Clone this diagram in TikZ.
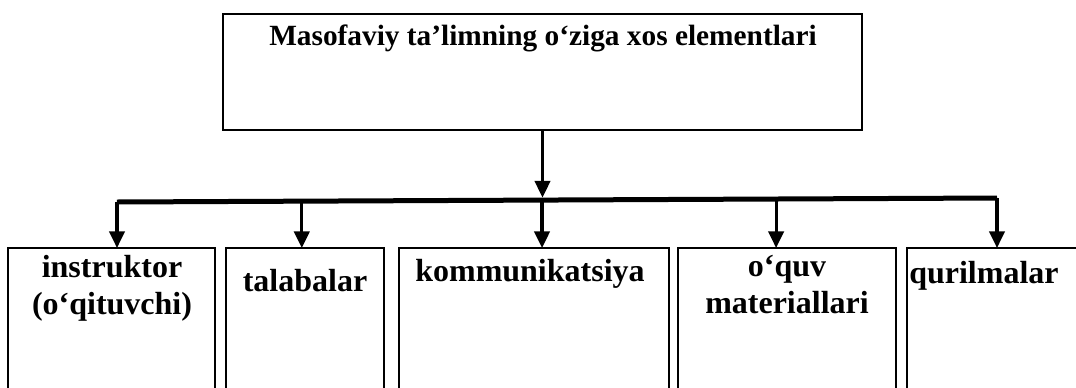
\documentclass[tikz,border=0pt]{standalone}
\usepackage{fontspec}
\setmainfont{Liberation Serif}
\usetikzlibrary{arrows.meta,calc}
\begin{document}
\begin{tikzpicture}[x=0.75pt,y=-0.75pt,
  box/.style={draw,line width=1.5pt,outer sep=0pt,inner sep=0pt,anchor=north west},
  lbl/.style={font=\fontsize{24}{27.5}\selectfont\bfseries,anchor=base,inner sep=0pt,align=center},
  ttl/.style={font=\fontsize{22}{26}\selectfont\bfseries,anchor=base,inner sep=0pt},
  arr/.style={line width=2.4pt,-{Triangle[width=11.5pt,length=12.5pt]}},
  bar/.style={line width=3.75pt}]
\useasboundingbox (0,0) rectangle (1076,387);
% top box
\node[box,minimum width=479.25pt,minimum height=87pt] (top) at (223,14) {};
\node[ttl] (title) at (543,45) {Masofaviy ta’limning o‘ziga xos elementlari};
% bottom boxes
\node[box,minimum width=155.25pt,minimum height=112pt] (b1) at (8,248) {};
\node[box,minimum width=118.5pt,minimum height=112pt] (b2) at (226,248) {};
\node[box,minimum width=202.5pt,minimum height=112pt] (b3) at (399,248) {};
\node[box,minimum width=163.5pt,minimum height=112pt] (b4) at (678,248) {};
\node[box,minimum width=140pt,minimum height=112pt] (b5) at (907,248) {};
% labels (multi-line labels are placed by the baseline of their last line)
\node[lbl] (t1) at (112,314) {instruktor\\(o‘qituvchi)};
\node[lbl] (t2) at (305,291) {talabalar};
\node[lbl] (t3) at (530,281) {kommunikatsiya};
\node[lbl] (t4) at (787,313) {o‘quv\\materiallari};
\node[lbl,anchor=base west] (t5) at (909,283) {qurilmalar};
% bar
\coordinate (bl) at (117,202);
\coordinate (br) at (997,198);
\draw[bar] (bl) -- (br);
\coordinate (d2) at ($(bl)!0.21!(br)$);
\coordinate (d3) at ($(bl)!0.483!(br)$);
\coordinate (d4) at ($(bl)!0.749!(br)$);
\coordinate (tb) at ($(d3)+(0,-2.5)$);
% connectors
\draw[arr] (top.south) -- (top.south |- tb);
\draw[arr] (bl) -- (bl |- b1.north);
\draw[arr] (d2) -- (d2 |- b2.north);
\draw[arr] (d3) -- (d3 |- b3.north);
\draw[arr] (d4) -- (d4 |- b4.north);
\draw[arr] (br) -- (br |- b5.north);
\end{tikzpicture}
\end{document}
